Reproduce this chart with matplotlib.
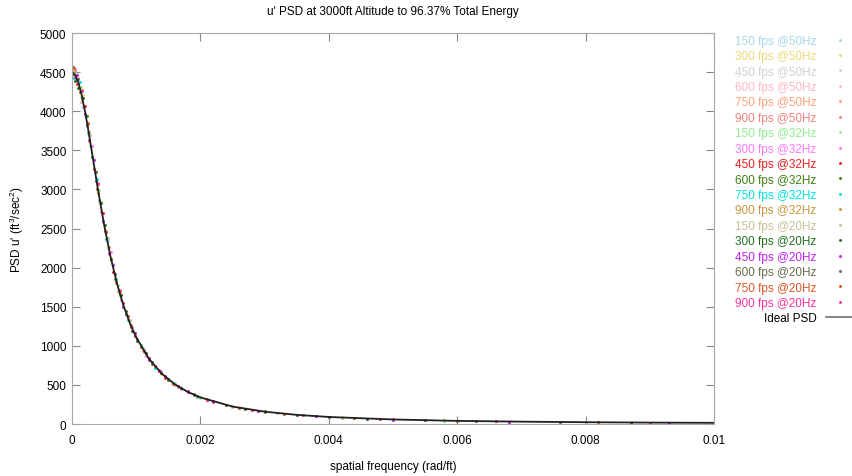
import matplotlib
matplotlib.use("Agg")
import matplotlib.pyplot as plt

plt.rcParams['font.family'] = ['Liberation Sans', 'DejaVu Sans']
plt.rcParams['mathtext.fontset'] = 'custom'
plt.rcParams['mathtext.rm'] = 'Liberation Sans'
plt.rcParams['mathtext.it'] = 'Liberation Sans'

# spatial frequency samples (rad/ft) for each frame rate
f150 = [0.00002, 0.00014, 0.00028, 0.00042, 0.00056, 0.00072, 0.0009, 0.0011, 0.0013, 0.0016, 0.002, 0.0025, 0.0032, 0.0042, 0.0058, 0.008]
f300 = [0.00005, 0.00017, 0.00031, 0.00045, 0.0006, 0.00076, 0.00094, 0.00115, 0.00138, 0.0017, 0.0021, 0.0027, 0.0035, 0.0046, 0.0063, 0.0087]
f450 = [0.00008, 0.0002, 0.00034, 0.00048, 0.00064, 0.0008, 0.00098, 0.0012, 0.00145, 0.0018, 0.0022, 0.0029, 0.0038, 0.005, 0.0068, 0.0093]
f600 = [0.00001, 0.0001, 0.00023, 0.00037, 0.00051, 0.00067, 0.00084, 0.00102, 0.00125, 0.0015, 0.0019, 0.0024, 0.003, 0.004, 0.0055, 0.0076]
f750 = [0.00003, 0.00012, 0.00025, 0.00039, 0.00053, 0.00069, 0.00087, 0.00107, 0.0013, 0.00158, 0.00195, 0.0026, 0.0033, 0.0044, 0.006, 0.0082]
f900 = [0.00004, 0.00015, 0.00027, 0.0004, 0.00058, 0.00074, 0.00092, 0.00112, 0.00135, 0.00165, 0.0021, 0.0028, 0.0036, 0.0048, 0.0066, 0.009]

# measured PSD values, one list per frame rate / sample rate
s150_50 = [4560, 4180, 3700, 2870, 2340, 1700, 1320, 940, 745, 500, 346, 219, 142, 80, 44, 22]
s300_50 = [4410, 4210, 3420, 2840, 2090, 1660, 1190, 905, 645, 465, 304, 196, 115, 69, 36, 20]
s450_50 = [4480, 3940, 3390, 2580, 2040, 1490, 1165, 818, 615, 405, 289, 165, 102, 57, 33, 16]
s600_50 = [4450, 4420, 3810, 3230, 2460, 1930, 1400, 1092, 765, 579, 368, 244, 156, 91, 47, 26]
s750_50 = [4530, 4250, 3840, 3010, 2470, 1800, 1380, 985, 740, 514, 360, 205, 132, 74, 41, 21]
s900_50 = [4420, 4270, 3620, 3080, 2180, 1710, 1235, 940, 675, 488, 306, 182, 110, 64, 33, 18]
s150_32 = [4430, 4310, 3560, 2990, 2250, 1780, 1265, 975, 712, 520, 333, 228, 136, 84, 42, 24]
s300_32 = [4540, 4050, 3550, 2710, 2200, 1590, 1240, 873, 672, 449, 316, 189, 119, 67, 38, 19]
s450_32 = [4350, 4070, 3260, 2700, 1950, 1550, 1120, 847, 594, 419, 279, 171, 98, 59, 31, 17]
s600_32 = [4570, 4300, 3940, 3110, 2550, 1860, 1450, 1058, 790, 561, 378, 238, 160, 89, 49, 25]
s750_32 = [4420, 4370, 3720, 3130, 2370, 1860, 1330, 1015, 718, 528, 351, 210, 129, 76, 40, 22]
s900_32 = [4510, 4150, 3740, 2960, 2260, 1650, 1270, 915, 693, 476, 314, 178, 112, 62, 34, 17]
s150_20 = [4520, 4120, 3690, 2850, 2380, 1690, 1330, 930, 748, 496, 351, 217, 143, 79, 45, 22]
s300_20 = [4390, 4170, 3410, 2830, 2110, 1650, 1195, 910, 648, 462, 306, 197, 114, 70, 36, 18]
s450_20 = [4460, 3960, 3380, 2590, 2030, 1500, 1160, 822, 612, 407, 288, 166, 101, 57, 32, 18]
s600_20 = [4480, 4410, 3830, 3220, 2470, 1920, 1410, 1088, 768, 576, 369, 243, 157, 91, 48, 24]
s750_20 = [4550, 4240, 3850, 3000, 2460, 1810, 1375, 988, 738, 516, 359, 204, 133, 75, 39, 23]
s900_20 = [4440, 4260, 3630, 3070, 2190, 1700, 1240, 935, 678, 486, 307, 181, 110, 63, 33, 18]

# ideal (analytic) PSD
f_ideal = [0, 0.00005, 0.0001, 0.00015, 0.0002, 0.00025, 0.0003, 0.0004, 0.0005, 0.0006, 0.0007, 0.0008, 0.0009,
           0.001, 0.0012, 0.0014, 0.0016, 0.0018, 0.002, 0.0025, 0.003, 0.0035, 0.004, 0.005, 0.006, 0.007,
           0.008, 0.009, 0.01]
psd_ideal = [4500, 4466, 4366, 4210, 4009, 3777, 3528, 3020, 2549, 2140, 1800, 1520, 1293,
             1108, 832, 643, 509, 412, 340, 223, 158, 117, 90, 58, 40, 30,
             23, 18, 15]

series = [
    ("150 fps @50Hz", f150, s150_50, "#a8d8ea"),
    ("300 fps @50Hz", f300, s300_50, "#eed878"),
    ("450 fps @50Hz", f450, s450_50, "#d0d0d0"),
    ("600 fps @50Hz", f600, s600_50, "#ffb6c1"),
    ("750 fps @50Hz", f750, s750_50, "#ffa07a"),
    ("900 fps @50Hz", f900, s900_50, "#f08080"),
    ("150 fps @32Hz", f150, s150_32, "#90ee90"),
    ("300 fps @32Hz", f300, s300_32, "#ff77ff"),
    ("450 fps @32Hz", f450, s450_32, "#ee2020"),
    ("600 fps @32Hz", f600, s600_32, "#3f7f10"),
    ("750 fps @32Hz", f750, s750_32, "#00e0e0"),
    ("900 fps @32Hz", f900, s900_32, "#c8963c"),
    ("150 fps @20Hz", f150, s150_20, "#c8c096"),
    ("300 fps @20Hz", f300, s300_20, "#1f6f1f"),
    ("450 fps @20Hz", f450, s450_20, "#c020f0"),
    ("600 fps @20Hz", f600, s600_20, "#5f6f4a"),
    ("750 fps @20Hz", f750, s750_20, "#dd5522"),
    ("900 fps @20Hz", f900, s900_20, "#ff3399"),
]

fig = plt.figure(figsize=(8.52, 4.77), dpi=100)
ax = fig.add_axes([0.0845, 0.109, 0.7535, 0.8197])

for label, f, s, c in series:
    ax.plot(f, s, ls='none', marker='.', ms=2.2, color=c, label=label)
ax.plot(f_ideal, psd_ideal, color='#202020', lw=1.3, label='Ideal PSD')

ax.set_xlim(0, 0.01)
ax.set_ylim(0, 5000)
ax.set_xticks([0, 0.002, 0.004, 0.006, 0.008, 0.01])
ax.set_xticklabels(['0', '0.002', '0.004', '0.006', '0.008', '0.01'])
ax.set_yticks(range(0, 5001, 500))

for sp in ax.spines.values():
    sp.set_color('#a8a8a8')
ax.tick_params(direction='in', length=6, color='#888888', labelsize=8.5,
               top=True, right=True)
ax.tick_params(axis='x', pad=7)
ax.tick_params(axis='y', pad=4)

ax.set_title("u' PSD at 3000ft Altitude to 96.37% Total Energy", fontsize=8.5, pad=14)
ax.set_xlabel("spatial frequency (rad/ft)", fontsize=8.5, labelpad=10)
ax.set_ylabel("PSD u' (ft$^3$/sec$^2$)", fontsize=8.5, labelpad=10)

leg = ax.legend(loc='upper left', bbox_to_anchor=(0.857, 0.935), bbox_transform=fig.transFigure,
                frameon=False, markerfirst=False, fontsize=8.5, labelcolor='linecolor',
                handlelength=2.4, handletextpad=0.8, labelspacing=0.29, borderaxespad=0)
for t in leg.get_texts():
    if t.get_text() == 'Ideal PSD':
        t.set_color('black')
for h in leg.legend_handles:
    if h.get_label() == 'Ideal PSD':
        h.set_color('#707070')
        h.set_linewidth(1.2)

fig.savefig('out.png', dpi=100)
